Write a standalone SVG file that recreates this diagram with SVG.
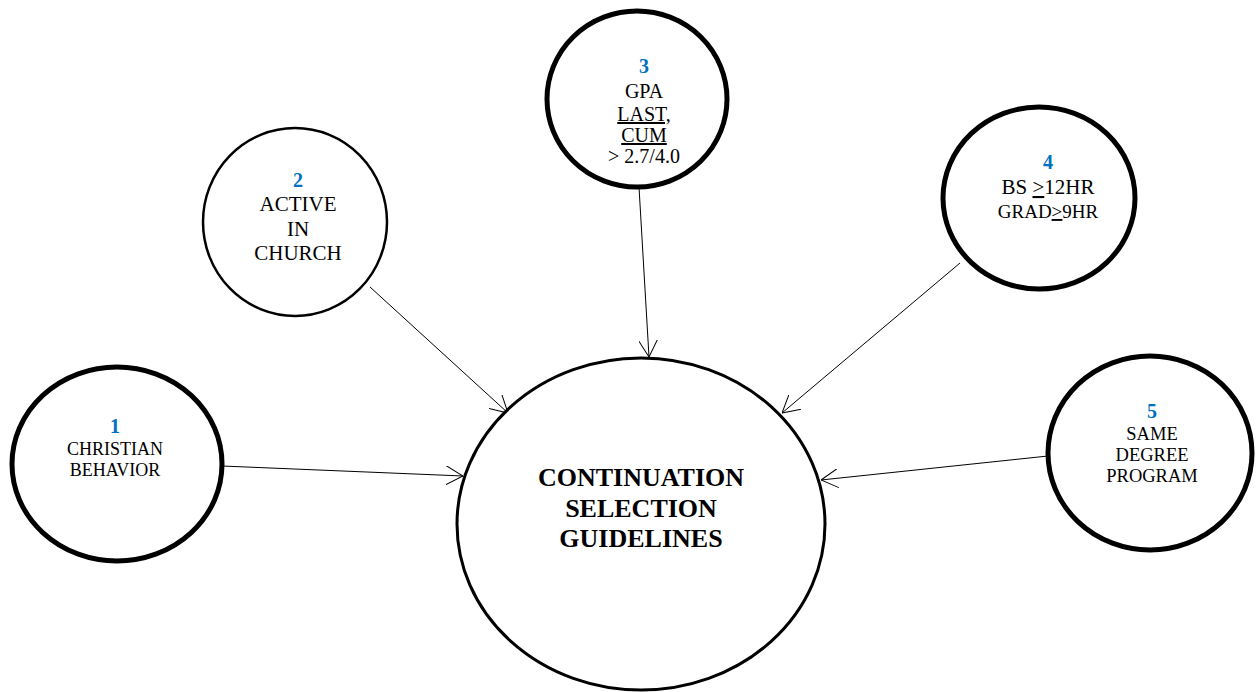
<svg xmlns="http://www.w3.org/2000/svg" width="1257" height="692" viewBox="0 0 1257 692">
<style>
.n{fill:#fff;stroke:#000}
.thick{stroke-width:5}
.thin{stroke-width:2.5}
.t{font-family:"Liberation Serif","Times New Roman",serif;fill:#000;text-anchor:middle}
.num{font-family:"Liberation Serif","Times New Roman",serif;fill:#0070C0;font-weight:bold;font-size:20px;text-anchor:middle}
.main{font-family:"Liberation Serif","Times New Roman",serif;font-weight:bold;font-size:26px;text-anchor:middle;fill:#000}
.c{stroke:#000;stroke-width:1;fill:none}
</style>
<defs>
<marker id="ah" viewBox="0 0 17 19" refX="17" refY="9.5" markerWidth="17" markerHeight="19" markerUnits="userSpaceOnUse" orient="auto">
<path d="M0,0 L17,9.5 L0,19" fill="none" stroke="#000" stroke-width="1"/>
</marker>
</defs>
<rect width="1257" height="692" fill="#fff"/>
<g id="connectors">
<line class="c" x1="222" y1="466" x2="463" y2="476" marker-end="url(#ah)"/>
<line class="c" x1="370" y1="287" x2="508" y2="413" marker-end="url(#ah)"/>
<line class="c" x1="639" y1="187" x2="649" y2="357" marker-end="url(#ah)"/>
<line class="c" x1="960" y1="263" x2="782" y2="413" marker-end="url(#ah)"/>
<line class="c" x1="1048" y1="456" x2="821" y2="480" marker-end="url(#ah)"/>
</g>
<g id="center">
<ellipse class="n" cx="641" cy="524" rx="184" ry="166" stroke-width="3"/>
<text class="main" x="641" y="486">CONTINUATION</text>
<text class="main" x="641" y="517">SELECTION</text>
<text class="main" x="641" y="547">GUIDELINES</text>
</g>
<g id="node1">
<ellipse class="n thick" cx="117" cy="464" rx="105" ry="97"/>
<text class="num" x="115" y="433">1</text>
<text class="t" x="115" y="455" font-size="18">CHRISTIAN</text>
<text class="t" x="115" y="476" font-size="18">BEHAVIOR</text>
</g>
<g id="node2">
<ellipse class="n thin" cx="295" cy="222" rx="92" ry="94"/>
<text class="num" x="298" y="187">2</text>
<text class="t" x="298" y="211" font-size="21">ACTIVE</text>
<text class="t" x="298" y="236" font-size="21">IN</text>
<text class="t" x="298" y="260" font-size="21">CHURCH</text>
</g>
<g id="node3">
<ellipse class="n thick" cx="637" cy="99" rx="90" ry="88"/>
<text class="num" x="644" y="73">3</text>
<text class="t" x="644" y="98" font-size="20">GPA</text>
<text class="t" x="644" y="121" font-size="20" text-decoration="underline">LAST,</text>
<text class="t" x="644" y="142" font-size="20" text-decoration="underline">CUM</text>
<text class="t" x="644" y="163" font-size="20">&gt; 2.7/4.0</text>
</g>
<g id="node4">
<ellipse class="n thick" cx="1039" cy="198" rx="96" ry="91"/>
<text class="num" x="1048" y="169">4</text>
<text class="t" x="1048" y="194" font-size="21">BS <tspan text-decoration="underline">&gt;</tspan>12HR</text>
<text class="t" x="1048" y="218" font-size="19">GRAD<tspan text-decoration="underline">&gt;</tspan>9HR</text>
</g>
<g id="node5">
<ellipse class="n thick" cx="1150" cy="453" rx="102" ry="97"/>
<text class="num" x="1152" y="418">5</text>
<text class="t" x="1152" y="440" font-size="18.5">SAME</text>
<text class="t" x="1152" y="461" font-size="18.5">DEGREE</text>
<text class="t" x="1152" y="482" font-size="18.5">PROGRAM</text>
</g>
</svg>
